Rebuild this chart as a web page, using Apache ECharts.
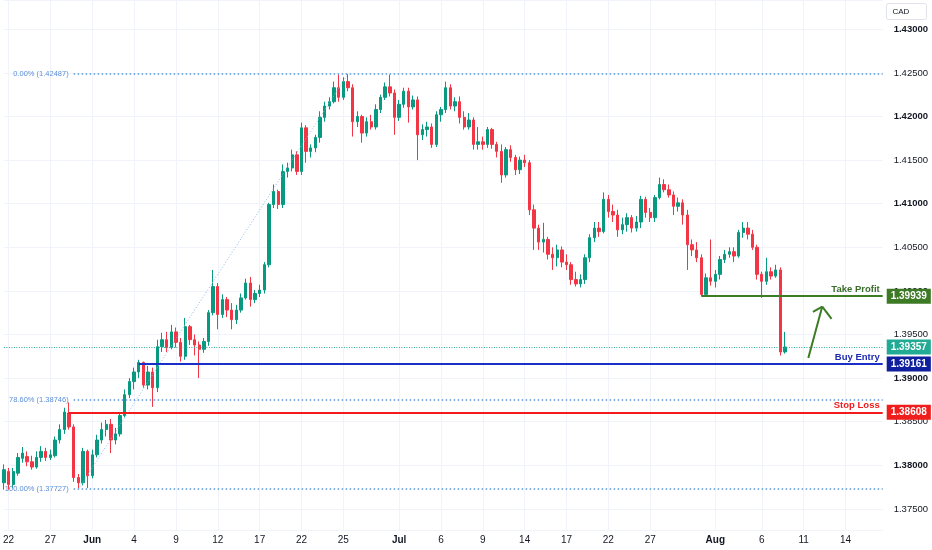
<!DOCTYPE html>
<html>
<head>
<meta charset="utf-8">
<script src="https://cdn.jsdelivr.net/npm/echarts@6/dist/echarts.min.js"></script>
<style>
    html, body { margin: 0; padding: 0; background: #fff; }
    #main { width: 932px; height: 550px; }
</style>
</head>
<body>
<div id="main"></div>
<script>
    // one row per candle: [open, close, low, high]
    var candles = [
        [1.3780, 1.3795, 1.3772, 1.3801], [1.3793, 1.3778, 1.3772, 1.3797], [1.3778, 1.3793, 1.3774, 1.3797],
        [1.3791, 1.3809, 1.3788, 1.3814], [1.3808, 1.3814, 1.3803, 1.3821], [1.3810, 1.3804, 1.3799, 1.3816],
        [1.3804, 1.3798, 1.3795, 1.3811], [1.3798, 1.3809, 1.3796, 1.3816], [1.3809, 1.3816, 1.3804, 1.3822],
        [1.3816, 1.3809, 1.3805, 1.3820], [1.3809, 1.3812, 1.3806, 1.3818], [1.3811, 1.3829, 1.3809, 1.3833],
        [1.3829, 1.3841, 1.3825, 1.3847], [1.3841, 1.3861, 1.3836, 1.3866], [1.3860, 1.3844, 1.3841, 1.3872],
        [1.3844, 1.3786, 1.3781, 1.3847], [1.3786, 1.3780, 1.37727, 1.3790], [1.3780, 1.3816, 1.3777, 1.3820],
        [1.3816, 1.3788, 1.3774, 1.3818], [1.3788, 1.3812, 1.3785, 1.3818], [1.3812, 1.3829, 1.3809, 1.3835],
        [1.3829, 1.3841, 1.3825, 1.3849], [1.3841, 1.3847, 1.3833, 1.3852], [1.3847, 1.3829, 1.3814, 1.3853],
        [1.3829, 1.3836, 1.3824, 1.3843], [1.3836, 1.3857, 1.3833, 1.3861], [1.3857, 1.3881, 1.3855, 1.3887],
        [1.3881, 1.3896, 1.3877, 1.3900], [1.3896, 1.3907, 1.3887, 1.3912], [1.3907, 1.3918, 1.3900, 1.3921],
        [1.3918, 1.3892, 1.3889, 1.3919], [1.3892, 1.3907, 1.3887, 1.3914], [1.3907, 1.3889, 1.3867, 1.3912],
        [1.3889, 1.3936, 1.3884, 1.3944], [1.3936, 1.3944, 1.3930, 1.3952], [1.3944, 1.3935, 1.3930, 1.3953],
        [1.3935, 1.3953, 1.3933, 1.3961], [1.3953, 1.3941, 1.3935, 1.3958], [1.3941, 1.3925, 1.3919, 1.3946],
        [1.3925, 1.3959, 1.3921, 1.3969], [1.3959, 1.3944, 1.3938, 1.3961], [1.3944, 1.3938, 1.3926, 1.3950],
        [1.3938, 1.3933, 1.3900, 1.3942], [1.3933, 1.3942, 1.3929, 1.3946], [1.3942, 1.3975, 1.3937, 1.3978],
        [1.3975, 1.4005, 1.3972, 1.4024], [1.4005, 1.3973, 1.3956, 1.4009], [1.3973, 1.3990, 1.3969, 1.3996],
        [1.3990, 1.3978, 1.3970, 1.3993], [1.3978, 1.3967, 1.3956, 1.3986], [1.3967, 1.3978, 1.3962, 1.3984],
        [1.3978, 1.3992, 1.3975, 1.3997], [1.3992, 1.4009, 1.3990, 1.4014], [1.4009, 1.3990, 1.3982, 1.4016],
        [1.3990, 1.3997, 1.3986, 1.4001], [1.3997, 1.4001, 1.3993, 1.4007], [1.4001, 1.4030, 1.3997, 1.4033],
        [1.4030, 1.4099, 1.4027, 1.4101], [1.4099, 1.4114, 1.4095, 1.4122], [1.4114, 1.4099, 1.4094, 1.4116],
        [1.4099, 1.4137, 1.4095, 1.4145], [1.4137, 1.4141, 1.4130, 1.4147], [1.4141, 1.4156, 1.4137, 1.4162],
        [1.4156, 1.4137, 1.4133, 1.4160], [1.4137, 1.4187, 1.4133, 1.4193], [1.4187, 1.4160, 1.4147, 1.4190],
        [1.4160, 1.4164, 1.4153, 1.4168], [1.4164, 1.4176, 1.4159, 1.4179], [1.4176, 1.4199, 1.4170, 1.4206],
        [1.4199, 1.4212, 1.4194, 1.4217], [1.4212, 1.4217, 1.4208, 1.4222], [1.4217, 1.4233, 1.4215, 1.4240],
        [1.4233, 1.4222, 1.4217, 1.4248], [1.4222, 1.4240, 1.4219, 1.4245], [1.4240, 1.4233, 1.4229, 1.42487],
        [1.4233, 1.4194, 1.4177, 1.4237], [1.4194, 1.4200, 1.4188, 1.4206], [1.4200, 1.4181, 1.4170, 1.4202],
        [1.4181, 1.4194, 1.4177, 1.4199], [1.4194, 1.4188, 1.4185, 1.4202], [1.4188, 1.4208, 1.4185, 1.4214],
        [1.4208, 1.4222, 1.4204, 1.4225], [1.4222, 1.4234, 1.4219, 1.4239], [1.4234, 1.4227, 1.4223, 1.4248],
        [1.4227, 1.4199, 1.4179, 1.4231], [1.4199, 1.4214, 1.4195, 1.4219], [1.4214, 1.4229, 1.4210, 1.4233],
        [1.4229, 1.4211, 1.4193, 1.4233], [1.4211, 1.4219, 1.4208, 1.4224], [1.4219, 1.4179, 1.4150, 1.4223],
        [1.4179, 1.4185, 1.4173, 1.4191], [1.4185, 1.4188, 1.4177, 1.4194], [1.4188, 1.4168, 1.4164, 1.4192],
        [1.4168, 1.4202, 1.4165, 1.4206], [1.4202, 1.4208, 1.4194, 1.4211], [1.4208, 1.4233, 1.4204, 1.4240],
        [1.4233, 1.4212, 1.4208, 1.4237], [1.4212, 1.4217, 1.4206, 1.4222], [1.4217, 1.4199, 1.4192, 1.4223],
        [1.4199, 1.4188, 1.4185, 1.4206], [1.4188, 1.4196, 1.4185, 1.4204], [1.4196, 1.4168, 1.4162, 1.4199],
        [1.4168, 1.4171, 1.4162, 1.4188], [1.4171, 1.4168, 1.4162, 1.4177], [1.4168, 1.4185, 1.4164, 1.4188],
        [1.4185, 1.4168, 1.4163, 1.4187], [1.4168, 1.4160, 1.4153, 1.4171], [1.4160, 1.4133, 1.4124, 1.4168],
        [1.4133, 1.4162, 1.4130, 1.4165], [1.4162, 1.4153, 1.4148, 1.4167], [1.4153, 1.4139, 1.4133, 1.4156],
        [1.4139, 1.4150, 1.4134, 1.4154], [1.4150, 1.4147, 1.4142, 1.4156], [1.4147, 1.4093, 1.4087, 1.4150],
        [1.4093, 1.4072, 1.4047, 1.4099], [1.4072, 1.4056, 1.4047, 1.4076], [1.4056, 1.4059, 1.4044, 1.4078],
        [1.4059, 1.4042, 1.4036, 1.4062], [1.4042, 1.4038, 1.4024, 1.4050], [1.4038, 1.4047, 1.4028, 1.4053],
        [1.4047, 1.4033, 1.4027, 1.4051], [1.4033, 1.4030, 1.4024, 1.4042], [1.4030, 1.4013, 1.4007, 1.4033],
        [1.4013, 1.4008, 1.4005, 1.4022], [1.4008, 1.4013, 1.4004, 1.4019], [1.4013, 1.4038, 1.4008, 1.4042],
        [1.4038, 1.4061, 1.4033, 1.4065], [1.4061, 1.4072, 1.4056, 1.4079], [1.4072, 1.4068, 1.4062, 1.4079],
        [1.4068, 1.4105, 1.4066, 1.4113], [1.4105, 1.4091, 1.4084, 1.4110], [1.4091, 1.4087, 1.4079, 1.4099],
        [1.4087, 1.4070, 1.4062, 1.4093], [1.4070, 1.4076, 1.4065, 1.4084], [1.4076, 1.4084, 1.4068, 1.4089],
        [1.4084, 1.4072, 1.4067, 1.4087], [1.4072, 1.4079, 1.4068, 1.4086], [1.4079, 1.4105, 1.4072, 1.4109],
        [1.4105, 1.4090, 1.4084, 1.4108], [1.4090, 1.4084, 1.4079, 1.4095], [1.4084, 1.4107, 1.4079, 1.4110],
        [1.4107, 1.4122, 1.4105, 1.4130], [1.4122, 1.4116, 1.4113, 1.4128], [1.4116, 1.4110, 1.4107, 1.4122],
        [1.4110, 1.4097, 1.4087, 1.4114], [1.4097, 1.4101, 1.4091, 1.4107], [1.4101, 1.4087, 1.4076, 1.4105],
        [1.4087, 1.4053, 1.4024, 1.4093], [1.4053, 1.4047, 1.4040, 1.4059], [1.4047, 1.4038, 1.4033, 1.4056],
        [1.4038, 1.3996, 1.39939, 1.4042], [1.3996, 1.4015, 1.3995, 1.4020], [1.4015, 1.4011, 1.4006, 1.4059],
        [1.4011, 1.4019, 1.4004, 1.4024], [1.4019, 1.4036, 1.4013, 1.4040], [1.4036, 1.4042, 1.4032, 1.4047],
        [1.4042, 1.4045, 1.4038, 1.4050], [1.4045, 1.4040, 1.4033, 1.4050], [1.4040, 1.4067, 1.4038, 1.4070],
        [1.4067, 1.4072, 1.4061, 1.4079], [1.4072, 1.4065, 1.4059, 1.4079], [1.4065, 1.4050, 1.4047, 1.4070],
        [1.4050, 1.4019, 1.4013, 1.4053], [1.4019, 1.4011, 1.3992, 1.4022], [1.4011, 1.4022, 1.4007, 1.4038],
        [1.4022, 1.4017, 1.4013, 1.4027], [1.4017, 1.4024, 1.4015, 1.4030], [1.4024, 1.3930, 1.3926, 1.4027],
        [1.3930, 1.39357, 1.3928, 1.3953]
    ];

    // time axis: slot count and where the date labels sit
    var slotCount = 190;
    var tickIdx  = [1, 10, 19, 28, 37, 46, 55, 64, 73, 85, 94, 103, 112, 121, 130, 139, 153, 163, 172, 181];
    var tickText = ['22', '27', 'Jun', '4', '9', '12', '17', '22', '25', 'Jul', '6', '9', '14', '17', '22', '27', 'Aug', '6', '11', '14'];
    var monthNames = ['Jun', 'Jul', 'Aug'];

    // visible price range of the pane
    var priceMin = 1.3725, priceMax = 1.43336;

    // trade levels
    var lastPrice = 1.39357;
    var takeProfit = 1.39939, tpFrom = 150;
    var buyEntry = 1.39161, entryFrom = 29;
    var stopLoss = 1.38608, slFrom = 14;

    // fibonacci drawing
    var fibLevels = [1.42487, 1.38746, 1.37727];
    var fibNames  = ['0.00%', '78.60%', '100.00%'];
    var fibFrom = 15;
    var fibSwing = [[16, 1.37727], [74, 1.42487]];

    // up arrow: shaft, then both head legs
    var arrowPts = [[173, 1.3923], [176, 1.3982], [174, 1.3976], [178, 1.3968]];

    var categories = [];
    for (var i = 0; i < slotCount; i++) {
        var k = tickIdx.indexOf(i);
        categories.push(k >= 0 ? tickText[k] : '');
    }
    var lastSlot = slotCount - 1;

    function showTick(index) {
        return tickIdx.indexOf(index) >= 0;
    }

    function segment(a, b, style) {
        return [{ coord: a, lineStyle: style, label: { show: false } }, { coord: b }];
    }

    var green = '#3d7b25', blue = '#1a2fc8', red = '#f21c1c';
    var boxLabel = function (text, bg) {
        return {
            show: true, position: 'end', distance: 4, formatter: text,
            backgroundColor: bg, color: '#ffffff', fontSize: 10, fontWeight: 'bold',
            padding: [2, 4, 2, 4], lineHeight: 11
        };
    };
    var hidden = { color: 'rgba(0,0,0,0)', width: 0 };

    var lines = [];

    // fibonacci levels
    fibLevels.forEach(function (lv, n) {
        lines.push([{
            coord: [fibFrom, lv],
            lineStyle: { color: '#5b96dc', width: 1.5, type: [1.5, 2.5] },
            label: {
                show: true, position: 'start', distance: 5,
                formatter: fibNames[n] + ' (' + lv.toFixed(5) + ')',
                color: '#5b8fd8', fontSize: 7.5
            }
        }, { coord: [lastSlot, lv] }]);
    });
    lines.push(segment(fibSwing[0], fibSwing[1], { color: '#8fb8ee', width: 1, type: [1, 2] }));

    // take profit / buy entry / stop loss
    [[takeProfit, tpFrom, green, '#3b6b2a', 'Take Profit', '#3d7a26'],
     [buyEntry, entryFrom, blue, '#1c2cb0', 'Buy Entry', '#0f1f9e'],
     [stopLoss, slFrom, red, '#ee1c1c', 'Stop Loss', '#f01d1d']].forEach(function (t) {
        lines.push([{
            coord: [t[1], t[0]],
            lineStyle: { color: t[2], width: 2, type: 'solid' },
            label: {
                show: true, position: 'insideEndTop', distance: [3, 2],
                formatter: t[4], color: t[3], fontSize: 9.5, fontWeight: 'bold'
            }
        }, { coord: [lastSlot, t[0]] }]);
        lines.push([{
            coord: [t[1], t[0]], lineStyle: hidden,
            label: boxLabel(t[0].toFixed(5), t[5])
        }, { coord: [lastSlot, t[0]] }]);
    });

    // current price
    lines.push({
        yAxis: lastPrice,
        lineStyle: { color: '#22ab94', width: 1, type: [1, 1.5] },
        label: boxLabel(lastPrice.toFixed(5), '#22ab94')
    });

    // arrow
    var arrowStyle = { color: '#3d7b25', width: 2, type: 'solid' };
    lines.push(segment(arrowPts[0], arrowPts[1], arrowStyle));
    lines.push(segment(arrowPts[1], arrowPts[2], arrowStyle));
    lines.push(segment(arrowPts[1], arrowPts[3], arrowStyle));

    var chart = echarts.init(document.getElementById('main'));

    var option = {
        animation: false,
        backgroundColor: '#ffffff',
        textStyle: { fontFamily: "'Liberation Sans', Arial, sans-serif" },
        grid: { left: 2.33, right: 49.3, top: 0, bottom: 19.3 },
        xAxis: {
            type: 'category',
            data: categories,
            boundaryGap: false,
            axisLine: { show: false },
            axisTick: { show: false },
            axisLabel: {
                interval: showTick,
                margin: 5,
                color: '#131722',
                fontSize: 10,
                formatter: function (v) {
                    return monthNames.indexOf(v) >= 0 ? '{m|' + v + '}' : v;
                },
                rich: { m: { fontWeight: 'bold', fontSize: 10, color: '#131722' } }
            },
            splitLine: { show: true, interval: showTick, lineStyle: { color: '#f0f3fa', width: 1 } }
        },
        yAxis: {
            type: 'value',
            position: 'right',
            scale: true,
            min: priceMin,
            max: priceMax,
            splitNumber: 12,
            minInterval: 0.005,
            maxInterval: 0.005,
            axisLine: { show: false },
            axisTick: { show: false },
            splitLine: { lineStyle: { color: '#f0f3fa', width: 1 } },
            axisLabel: {
                margin: 11,
                showMinLabel: false,
                showMaxLabel: false,
                formatter: function (v) {
                    var s = Number(v).toFixed(5);
                    return Math.round(v * 1000) % 10 === 0 ? '{b|' + s + '}' : '{n|' + s + '}';
                },
                rich: {
                    b: { fontWeight: 'bold', fontSize: 9.5, color: '#131722' },
                    n: { fontSize: 9.5, color: '#131722' }
                }
            }
        },
        series: [{
            type: 'candlestick',
            data: candles,
            barWidth: '62%',
            itemStyle: {
                color: '#089981',
                color0: '#f23645',
                borderColor: '#089981',
                borderColor0: '#f23645',
                borderWidth: 1
            },
            markLine: {
                silent: true,
                symbol: ['none', 'none'],
                precision: 5,
                data: lines
            }
        }],
        graphic: [{
            type: 'group',
            right: 5,
            top: 3,
            children: [
                { type: 'rect', shape: { x: 0, y: 0, width: 40, height: 16, r: 2 },
                  style: { fill: '#ffffff', stroke: '#e0e3eb', lineWidth: 1 } },
                { type: 'text', x: 6, y: 8,
                  style: { text: 'CAD', fill: '#131722', fontSize: 8, verticalAlign: 'middle',
                           fontFamily: "'Liberation Sans', Arial, sans-serif" } }
            ]
        }]
    };

    chart.setOption(option);
</script>
</body>
</html>
